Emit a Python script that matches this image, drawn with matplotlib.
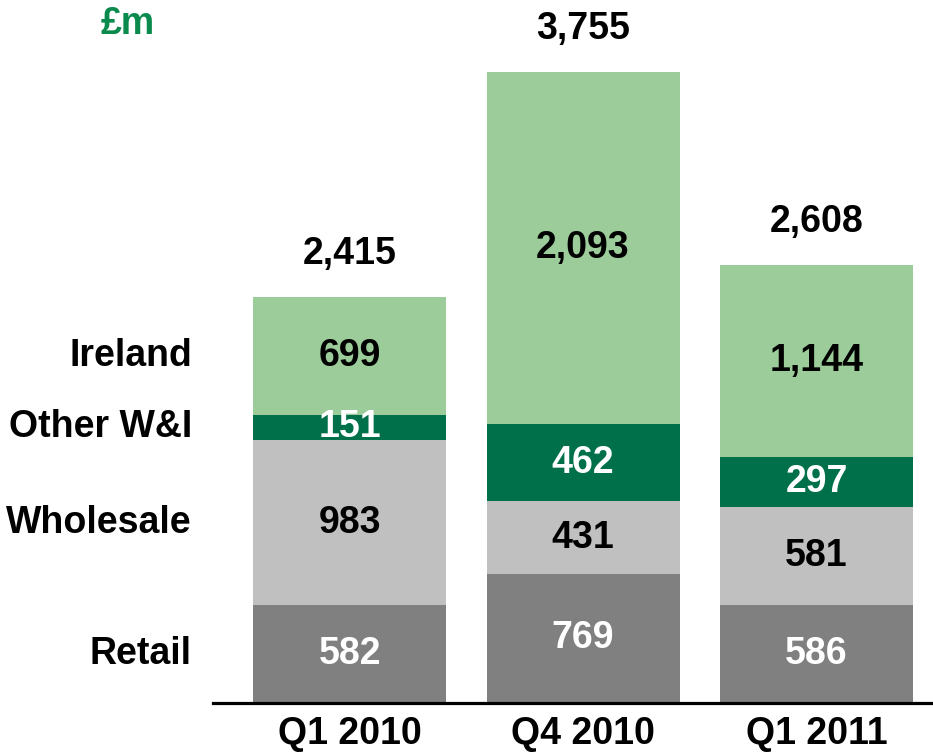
import matplotlib.pyplot as plt
import numpy as np

plt.rcParams['font.family'] = 'Liberation Sans'
plt.rcParams['font.weight'] = 'bold'

# data (£m)
quarters = ['Q1 2010', 'Q4 2010', 'Q1 2011']
segments = ['Retail', 'Wholesale', 'Other W&I', 'Ireland']
retail = [582, 769, 586]
wholesale = [983, 431, 581]
other_wi = [151, 462, 297]
ireland = [699, 2093, 1144]
totals = [2415, 3755, 2608]

# colours
seg_colors = ['#808080', '#C0C0C0', '#00704A', '#9BCC99']
lbl_colors = ['white', 'black', 'white', 'black']
title_green = '#0B8A4E'

fs = 27

fig = plt.figure(figsize=(9.33, 7.56), dpi=100)
W, H = 933, 756
ax = fig.add_axes([213 / W, (H - 703) / H, 720 / W, (703 - 72) / H])

x = np.arange(len(quarters))
bar_w = 0.827
bottom = np.zeros(len(quarters))
series = [retail, wholesale, other_wi, ireland]
for vals, col, tcol in zip(series, seg_colors, lbl_colors):
    vals = np.array(vals, dtype=float)
    ax.bar(x, vals, bar_w, bottom=bottom, color=col, edgecolor='none', zorder=2)
    for xi, b, v in zip(x, bottom, vals):
        ax.text(xi, b + v / 2, f'{int(v):,}', ha='center', va='center',
                fontsize=fs, fontweight='bold', color=tcol, zorder=3)
    bottom += vals

# totals above bars
for xi, t in zip(x, totals):
    ax.annotate(f'{t:,}', xy=(xi, t), xytext=(0, 31), textcoords='offset points',
                ha='center', va='center', fontsize=fs, fontweight='bold',
                annotation_clip=False)

ax.set_xlim(-0.585, 2.499)
ax.set_ylim(0, max(totals))

for sp in ['top', 'left', 'right']:
    ax.spines[sp].set_visible(False)
ax.spines['bottom'].set_linewidth(2.3)
ax.spines['bottom'].set_zorder(4)
ax.set_yticks([])
ax.set_xticks(x)
ax.set_xticklabels(quarters, fontsize=fs, fontweight='bold')
ax.tick_params(axis='x', length=0, pad=9)

# segment names next to the first bar
first = np.array([s[0] for s in series])
starts = np.cumsum(first) - first
for name, s0, v in zip(segments, starts, first):
    ax.text(-0.585 - 0.09, s0 + v / 2, name, ha='right', va='center',
            fontsize=fs, fontweight='bold', clip_on=False)

fig.text(128 / W, 1 - 24 / H, '£m', ha='center', va='center',
         fontsize=fs, fontweight='bold', color=title_green)

fig.savefig('out.png', dpi=100)
